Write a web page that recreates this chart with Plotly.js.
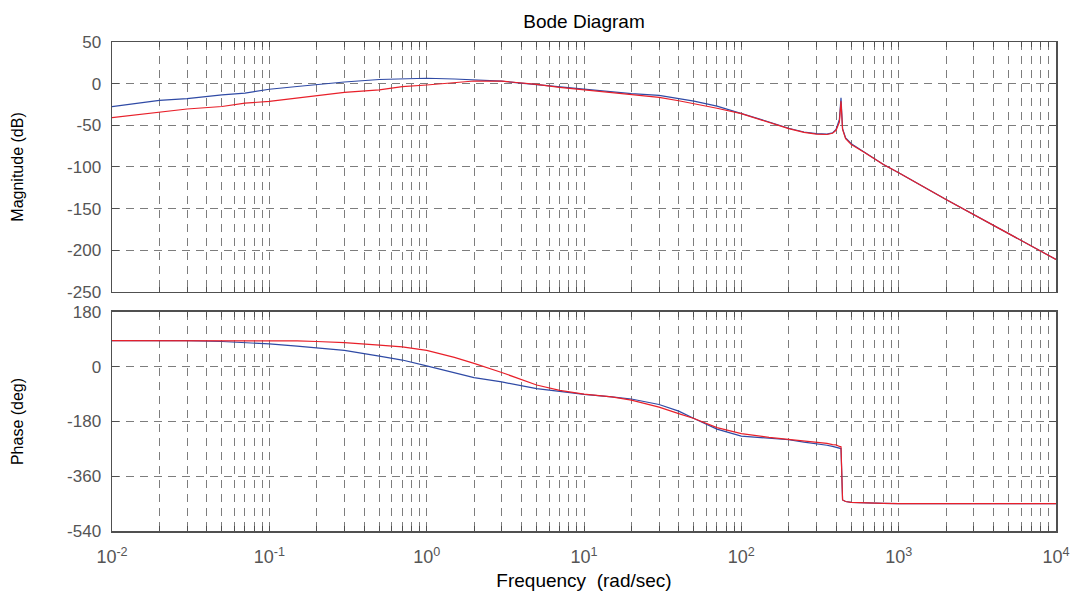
<!DOCTYPE html>
<html>
<head>
<meta charset="utf-8">
<script src="https://cdn.plot.ly/plotly-3.0.1.min.js"></script>
<style>
  html, body { margin: 0; padding: 0; background: #ffffff; }
  #bode { width: 1073px; height: 597px; }
</style>
</head>
<body>
<div id="bode"></div>
<script>
// Frequency samples (rad/sec)
const freq = [0.01, 0.02, 0.03, 0.05, 0.07, 0.1, 0.15, 0.2, 0.3, 0.5, 0.7,
  1, 1.5, 2, 3, 5, 7, 10, 15, 20, 30, 40, 50, 70, 100, 150, 200, 250, 300,
  350, 380, 400, 420, 430, 440, 460, 500, 600, 800, 1000, 2000, 5000, 10000];

// Magnitude (dB)
const magBlue = [-27.5, -20, -18, -13.4, -11.3, -6.7, -3.4, -1.2, 2, 5, 5.6,
  6.5, 5.6, 4.4, 3, -1.2, -4, -6.5, -10, -12, -14, -17.5, -21, -27, -35.5,
  -46, -53.5, -58, -60, -60.5, -59, -55, -43, -17, -54, -65, -72, -82, -97,
  -107, -139, -180, -211];
const magRed = [-40.8, -34.4, -30.4, -27.4, -23.4, -21.2, -17.2, -15, -10.4,
  -7.4, -3.6, -1.6, 1.6, 3.2, 3, -0.8, -4.4, -7.2, -10.5, -13, -16.5, -20.5,
  -24, -29.5, -36, -46.5, -54, -58.5, -60.5, -61, -59.5, -56, -46, -21, -55,
  -66, -73, -82, -97, -107, -139, -180, -211];

// Phase (deg)
const phaseBlue = [86, 86, 86, 83, 80, 75, 68, 62, 54, 35, 22, 3, -19, -36,
  -50, -72, -81, -91, -99, -106, -124, -146, -170, -205, -228, -236, -240,
  -248, -253, -258, -262, -264, -268, -269, -438, -443, -446, -448, -449,
  -450, -450, -450, -450];
const phaseRed = [86, 86, 86, 86, 86, 86, 85, 83, 79, 71, 65, 54, 31, 11,
  -19, -60, -78, -90, -99, -110, -133, -154, -170, -200, -220, -232, -238,
  -243, -247, -252, -256, -257, -262, -263, -438, -443, -446, -448, -449,
  -450, -450, -450, -450];

// Axis ticks
const decades = [-2, -1, 0, 1, 2, 3, 4];
const minorMultipliers = [2, 3, 4, 5, 6, 7, 8, 9];
const magTicks = [-250, -200, -150, -100, -50, 0, 50];
const phaseTicks = [-540, -360, -180, 0, 180];

const decadeVals = decades.map(function (e) { return Math.pow(10, e); });
const decadeText = decades.map(function (e) { return '10<sup>' + e + '</sup>'; });
const minorVals = [];
decades.slice(0, -1).forEach(function (e) {
  minorMultipliers.forEach(function (m) {
    minorVals.push(+(m * Math.pow(10, e)).toPrecision(6));
  });
});
// plain hyphen for negative labels
const tickLabel = function (v) { return String(v); };

const FONT = 'Liberation Sans, Arial, Helvetica, sans-serif';
const BLUE = '#2f4aa5';
const RED = '#e8202a';
const GRID = '#7d7d7d';
const DASH = '8px,6px';

const frame = {
  showline: true, linecolor: '#505050', linewidth: 1.5, mirror: 'ticks',
  ticks: 'inside', tickcolor: '#505050', tickwidth: 1,
  showgrid: true, gridcolor: GRID, gridwidth: 1, griddash: DASH,
  zeroline: false,
  tickfont: { family: FONT, size: 17, color: '#555555' }
};

const freqAxis = Object.assign({}, frame, {
  type: 'log', range: [-2, 4], tickmode: 'array',
  tickvals: decadeVals, ticklen: 5,
  minor: {
    tickmode: 'array', tickvals: minorVals, ticks: 'inside', ticklen: 5,
    tickcolor: '#505050', showgrid: true, gridcolor: GRID, gridwidth: 1,
    griddash: DASH
  }
});

function line(x, y, color, xa, ya) {
  return {
    type: 'scatter', mode: 'lines', x: x, y: y,
    xaxis: xa, yaxis: ya, showlegend: false, hoverinfo: 'skip',
    line: { color: color, width: 1.2 }
  };
}

const traces = [
  line(freq, magBlue, BLUE, 'x', 'y'),
  line(freq, magRed, RED, 'x', 'y'),
  line(freq, phaseBlue, BLUE, 'x2', 'y2'),
  line(freq, phaseRed, RED, 'x2', 'y2')
];

const layout = {
  width: 1073, height: 597,
  margin: { l: 112, r: 17, t: 42, b: 66 },
  paper_bgcolor: '#ffffff', plot_bgcolor: '#ffffff',
  font: { family: FONT, color: '#000000' },
  title: {
    text: 'Bode Diagram', font: { family: FONT, size: 19, color: '#000000' },
    x: 0.5, xref: 'paper', xanchor: 'center',
    y: 1 - 21 / 597, yref: 'container', yanchor: 'middle'
  },
  xaxis: Object.assign({}, freqAxis, { anchor: 'y', showticklabels: false }),
  xaxis2: Object.assign({}, freqAxis, {
    anchor: 'y2', ticktext: decadeText, ticklabelstandoff: 9,
    tickfont: { family: FONT, size: 18, color: '#555555' },
    title: {
      text: 'Frequency\u00a0 (rad/sec)',
      font: { family: FONT, size: 19, color: '#000000' }, standoff: 7
    }
  }),
  yaxis: Object.assign({}, frame, {
    anchor: 'x', domain: [0.4888, 1], range: [-250, 50],
    tickmode: 'array', tickvals: magTicks, ticktext: magTicks.map(tickLabel),
    ticklen: 7, ticklabelstandoff: 6,
    title: {
      text: 'Magnitude (dB)',
      font: { family: FONT, size: 16, color: '#000000' }, standoff: 39
    }
  }),
  yaxis2: Object.assign({}, frame, {
    anchor: 'x2', domain: [0, 0.4479], range: [-540, 180],
    tickmode: 'array', tickvals: phaseTicks, ticktext: phaseTicks.map(tickLabel),
    ticklen: 7, ticklabelstandoff: 6,
    title: {
      text: 'Phase (deg)',
      font: { family: FONT, size: 16, color: '#000000' }, standoff: 39
    }
  })
};

Plotly.newPlot('bode', traces, layout, { staticPlot: true, displayModeBar: false });
</script>
</body>
</html>
